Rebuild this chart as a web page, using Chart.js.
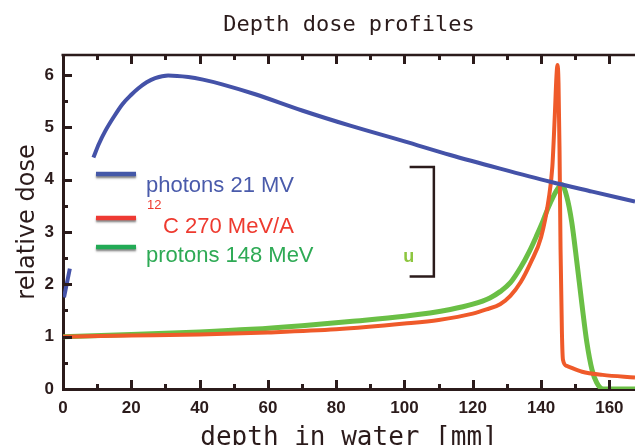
<!DOCTYPE html>
<html>
<head>
<meta charset="utf-8">
<title>Depth dose profiles</title>
<script src="https://cdn.jsdelivr.net/npm/chart.js@4.4.1/dist/chart.umd.min.js"></script>
<style>
  html, body { margin: 0; padding: 0; background: #fff; }
  #wrap { width: 635px; height: 445px; }
</style>
</head>
<body>
<div id="wrap"><canvas id="doseChart" width="635" height="445"></canvas></div>
<script>
// depth in water [mm] and relative dose
const photonDepth = [0.3, 2.0, 5, 8.9, 10.5, 12.4, 14.8, 17.4, 20, 22, 24.5, 27, 30.8, 36.7, 41, 46.6, 56.3, 70, 84.1, 100, 113.4, 128, 142.7, 155, 167.5];
const photonDose  = [1.75, 2.3, null, 4.42, 4.68, 4.93, 5.19, 5.44, 5.62, 5.74, 5.86, 5.94, 5.99, 5.96, 5.91, 5.82, 5.63, 5.32, 5.03, 4.73, 4.47, 4.21, 3.96, 3.77, 3.58];

const carbonDepth = [0, 20, 40, 60, 80, 100, 110, 120, 124, 128, 131, 134, 137, 140, 142.2, 143.3, 144, 144.5, 144.8, 145.1, 145.4, 145.7, 146.1, 146.4, 147.5, 152, 158, 167.5];
const carbonDose  = [1.0, 1.02, 1.04, 1.08, 1.14, 1.25, 1.32, 1.44, 1.52, 1.62, 1.78, 2.04, 2.42, 2.9, 3.62, 4.25, 5.2, 5.97, 6.19, 5.85, 4.57, 2.66, 1.08, 0.56, 0.44, 0.33, 0.27, 0.22];

const protonDepth = [0, 20, 40, 55, 70, 84, 100, 113.4, 120, 125, 128, 131, 134, 136.5, 138.7, 140.5, 142, 143.6, 145, 146.1, 147.5, 149, 150.5, 151.9, 153.4, 154.9, 156.3, 158.2, 167.5];
const protonDose  = [1.0, 1.04, 1.09, 1.14, 1.21, 1.29, 1.39, 1.52, 1.62, 1.74, 1.86, 2.03, 2.32, 2.62, 2.93, 3.2, 3.45, 3.68, 3.84, 3.90, 3.68, 3.18, 2.41, 1.65, 0.89, 0.37, 0.12, 0.0, 0.0];

// major ticks are labelled, minor ticks sit halfway between them
const xMajor = [0, 20, 40, 60, 80, 100, 120, 140, 160];
const xMinor = [10, 30, 50, 70, 90, 110, 130, 150];
const yMajor = [0, 1, 2, 3, 4, 5, 6];
const yMinor = [0.5, 1.5, 2.5, 3.5, 4.5, 5.5];

const axisColor = '#2b1b1b';

function toPoints(xs, ys) {
  return xs.map((x, i) => ({ x: x, y: ys[i] }));
}

// inward tick marks on the frame, top frame line, legend and the old bracket
const frameExtras = {
  id: 'frameExtras',
  afterDraw(chart) {
    const ctx = chart.ctx;
    const xs = chart.scales.x;
    const ys = chart.scales.y;
    const left = xs.left, right = xs.right;
    const top = ys.top, bottom = ys.bottom;
    ctx.save();
    ctx.setLineDash([]);
    ctx.globalAlpha = 1;
    ctx.fillStyle = axisColor;

    // top frame
    ctx.fillRect(left - 1.5, top - 1.25, right - left + 1.5, 2.5);

    const xMarks = xMajor.map(v => [v, 9]).concat(xMinor.map(v => [v, 5]));
    xMarks.forEach(([v, len]) => {
      const px = Math.round(xs.getPixelForValue(v));
      ctx.fillRect(px - 1, bottom - len, 3, len);
      ctx.fillRect(px - 1, top, 3, len);
    });
    const yMarks = yMajor.map(v => [v, 9]).concat(yMinor.map(v => [v, 5]));
    yMarks.forEach(([v, len]) => {
      const py = Math.round(ys.getPixelForValue(v));
      ctx.fillRect(left, py - 1, len, 3);
    });

    // remains of the original legend frame
    const bx0 = xs.getPixelForValue(101.5), bx1 = xs.getPixelForValue(108.6);
    const by0 = ys.getPixelForValue(4.24), by1 = ys.getPixelForValue(2.15);
    ctx.strokeStyle = axisColor;
    ctx.lineWidth = 2.5;
    ctx.beginPath();
    ctx.moveTo(bx0, by0);
    ctx.lineTo(bx1, by0);
    ctx.lineTo(bx1, by1);
    ctx.lineTo(bx0, by1);
    ctx.stroke();
    ctx.fillStyle = '#8dc63f';
    ctx.font = 'bold 18px "Liberation Sans"';
    ctx.textBaseline = 'alphabetic';
    ctx.textAlign = 'left';
    ctx.fillText('u', xs.getPixelForValue(99.6), ys.getPixelForValue(2.42));

    // legend
    const items = [
      { line: '#4458a8', text: '#4a5bab', y: 174, label: 'photons 21 MV', tx: 146, ty: 192 },
      { line: '#ee3a33', text: '#ee3a2f', y: 218, label: 'C 270 MeV/A', tx: 163, ty: 233, sup: '12' },
      { line: '#22aa55', text: '#2eaa55', y: 247, label: 'protons 148 MeV', tx: 146, ty: 262 }
    ];
    items.forEach(it => {
      ctx.save();
      ctx.shadowColor = 'rgba(40,40,40,0.55)';
      ctx.shadowOffsetY = 2;
      ctx.shadowBlur = 2;
      ctx.strokeStyle = it.line;
      ctx.lineWidth = 4.5;
      ctx.beginPath();
      ctx.moveTo(96, it.y);
      ctx.lineTo(136, it.y);
      ctx.stroke();
      ctx.restore();
      ctx.fillStyle = it.text;
      ctx.font = '22px "Liberation Sans"';
      ctx.fillText(it.label, it.tx, it.ty);
      if (it.sup) {
        ctx.font = '13px "Liberation Sans"';
        ctx.fillText(it.sup, 147, 209);
      }
    });
    ctx.restore();
  }
};

new Chart(document.getElementById('doseChart'), {
  type: 'line',
  data: {
    datasets: [
      {
        label: 'photons 21 MV',
        data: toPoints(photonDepth, photonDose),
        borderColor: '#4452a8',
        borderWidth: 4,
        spanGaps: false
      },
      {
        label: '12C 270 MeV/A',
        data: toPoints(carbonDepth, carbonDose),
        borderColor: '#ef5a2a',
        borderWidth: 4
      },
      {
        label: 'protons 148 MeV',
        data: toPoints(protonDepth, protonDose),
        borderColor: '#6abf45',
        borderWidth: 5
      }
    ]
  },
  options: {
    responsive: false,
    animation: false,
    events: [],
    layout: { padding: 0 },
    elements: {
      point: { radius: 0 },
      line: { cubicInterpolationMode: 'monotone', borderCapStyle: 'butt' }
    },
    plugins: {
      legend: { display: false },
      tooltip: { enabled: false },
      title: {
        display: true,
        text: 'Depth dose profiles',
        fullSize: false,
        color: axisColor,
        font: { family: '"DejaVu Sans Mono"', size: 22, weight: 'normal', lineHeight: 1.2 },
        padding: { top: 12, bottom: 16.6 }
      }
    },
    scales: {
      x: {
        type: 'linear',
        min: 0,
        max: 167.5,
        afterFit(scale) { scale.height = 56; },
        grid: { display: false, drawTicks: false },
        border: { display: true, width: 3, color: axisColor },
        ticks: {
          stepSize: 20,
          includeBounds: false,
          color: axisColor,
          padding: 9,
          maxRotation: 0,
          font: { family: '"Liberation Sans"', size: 17, weight: 'bold' }
        },
        title: {
          display: true,
          text: 'depth in water [mm]',
          color: axisColor,
          font: { family: '"DejaVu Sans Mono"', size: 26, lineHeight: 1 },
          padding: { top: 0, bottom: -6 }
        }
      },
      y: {
        type: 'linear',
        min: 0,
        max: 6.38,
        afterFit(scale) { scale.width = 63; },
        grid: { display: false, drawTicks: false },
        border: { display: true, width: 3, color: axisColor },
        ticks: {
          stepSize: 1,
          includeBounds: false,
          color: axisColor,
          padding: 9,
          font: { family: '"Liberation Sans"', size: 17, weight: 'bold' }
        },
        title: {
          display: true,
          text: 'relative dose',
          color: axisColor,
          font: { family: '"DejaVu Sans"', size: 24, lineHeight: 1 },
          padding: { top: 16, bottom: 0 }
        }
      }
    }
  },
  plugins: [frameExtras]
});
</script>
</body>
</html>
